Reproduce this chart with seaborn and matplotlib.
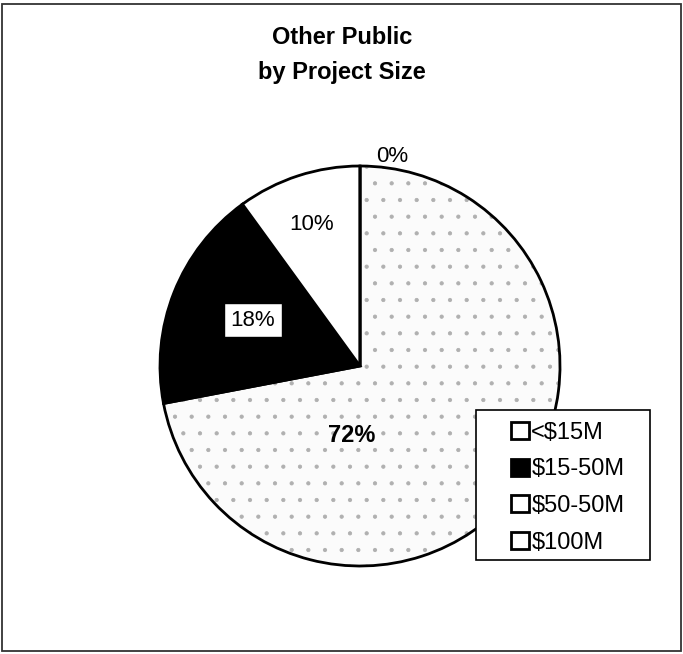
import matplotlib
matplotlib.use("Agg")
import matplotlib.pyplot as plt
import seaborn as sns
from matplotlib.patches import Rectangle

sns.set_theme(style="white")
plt.rcParams["font.family"] = ["Liberation Sans", "DejaVu Sans"]
plt.rcParams["text.color"] = "black"
plt.rcParams["hatch.linewidth"] = 0.6

# Share of projects by size
categories = ["<$15M", "$15-50M", "$50-50M", "$100M"]
shares = [72, 18, 10, 0]
labels = ["72%", "18%", "10%", "0%"]
fills = ["white", "black", "white", "white"]

fig = plt.figure(figsize=(6.83, 6.54), dpi=100)
fig.patch.set_facecolor("white")

# outer frame of the chart area
fig.patches.append(Rectangle((0.003, 0.004), 0.994, 0.99, transform=fig.transFigure,
                             fill=False, edgecolor="#333333", linewidth=1.3))

cx, cy = 360 / 683, 1 - 366 / 654
w, h = 400 / 683, 400 / 654
ax = fig.add_axes([cx - w / 2, cy - h / 2, w, h])

# stippled texture for the largest slice
wedges_bg, _ = ax.pie(shares, colors=fills, startangle=90, counterclock=False,
                      radius=1, wedgeprops=dict(linewidth=0))
wedges_bg[0].set_hatch(".")
wedges_bg[0].set_edgecolor("#b0b0b0")
wedges_bg[0].set_facecolor("#fbfbfb")

# outlined slices on top
wedges, _ = ax.pie(shares, colors=fills, startangle=90, counterclock=False, radius=1,
                   wedgeprops=dict(linewidth=2.0, edgecolor="black"))
wedges[0].set_facecolor("none")

ax.set_xlim(-1, 1)
ax.set_ylim(-1, 1)
ax.set_aspect("equal")
ax.axis("off")

# value labels
ax.text(-0.04, -0.35, labels[0], ha="center", va="center", fontsize=17, fontweight="bold")
ax.text(-0.535, 0.23, labels[1], ha="center", va="center", fontsize=16,
        bbox=dict(boxstyle="square,pad=0.3", facecolor="white", edgecolor="black", linewidth=1))
ax.text(-0.24, 0.71, labels[2], ha="center", va="center", fontsize=16)
ax.text(0.16, 1.05, labels[3], ha="center", va="center", fontsize=16, clip_on=False)

fig.text(342 / 683, 1 - 55 / 654, "Other Public\nby Project Size", ha="center", va="center",
         fontsize=17, fontweight="bold", linespacing=1.65)

# legend frame drawn separately so its padding can be set per side
fig.patches.append(Rectangle((476 / 683, 1 - 560 / 654), 174 / 683, 150 / 654,
                             transform=fig.transFigure, facecolor="white",
                             edgecolor="black", linewidth=1.2, zorder=3))

leg = fig.legend(wedges_bg, categories, loc="upper left",
                 bbox_to_anchor=(499 / 683, 1 - 410 / 654), fontsize=17, frameon=False,
                 handlelength=0.75, handleheight=0.75,
                 handletextpad=0.12, labelspacing=0.62, borderpad=0.5, borderaxespad=0)
leg.set_zorder(4)
for hnd, fc in zip(leg.legend_handles, fills):
    hnd.set_facecolor(fc)
    hnd.set_edgecolor("black")
    hnd.set_linewidth(2)
    hnd.set_hatch(None)

fig.savefig("out.png", dpi=100, facecolor="white")
